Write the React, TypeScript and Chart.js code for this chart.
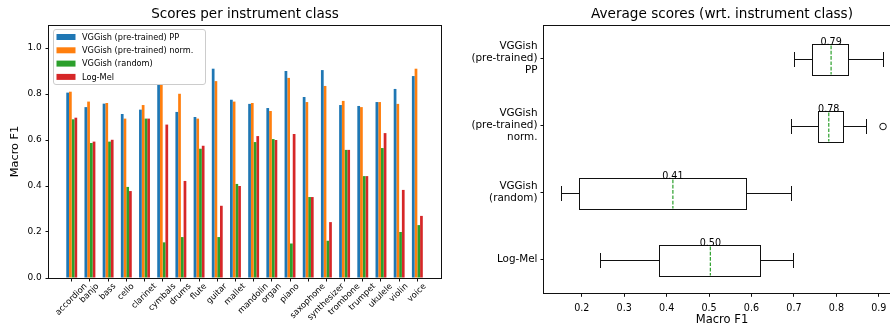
import React, { useEffect, useRef } from 'react';
import { Chart, registerables } from 'chart.js';

Chart.register(...registerables);

// ---------------- data ----------------
const instruments = [
  'accordion', 'banjo', 'bass', 'cello', 'clarinet', 'cymbals', 'drums', 'flute', 'guitar', 'mallet',
  'mandolin', 'organ', 'piano', 'saxophone', 'synthesizer', 'trombone', 'trumpet', 'ukulele', 'violin', 'voice',
];
const vggishPP = [0.806, 0.743, 0.758, 0.713, 0.732, 0.841, 0.722, 0.700, 0.910, 0.775, 0.757, 0.739, 0.900, 0.787, 0.904, 0.752, 0.748, 0.765, 0.822, 0.878];
const vggishNorm = [0.810, 0.767, 0.761, 0.693, 0.752, 0.841, 0.801, 0.693, 0.856, 0.767, 0.761, 0.726, 0.870, 0.765, 0.835, 0.770, 0.743, 0.765, 0.757, 0.910];
const vggishRandom = [0.690, 0.587, 0.593, 0.396, 0.693, 0.155, 0.178, 0.562, 0.178, 0.409, 0.591, 0.604, 0.150, 0.352, 0.162, 0.557, 0.443, 0.565, 0.200, 0.230];
const logMel = [0.697, 0.593, 0.601, 0.378, 0.693, 0.667, 0.422, 0.575, 0.314, 0.400, 0.617, 0.600, 0.626, 0.352, 0.243, 0.557, 0.443, 0.630, 0.383, 0.270];

const seriesNames = ['VGGish (pre-trained) PP', 'VGGish (pre-trained) norm.', 'VGGish (random)', 'Log-Mel'];
const seriesColors = ['#1f77b4', '#ff7f0e', '#2ca02c', '#d62728'];
const boxLabels = [['VGGish', '(pre-trained)', 'PP'], ['VGGish', '(pre-trained)', 'norm.'], ['VGGish', '(random)'], 'Log-Mel'];
const leftYTicks = [0.0, 0.2, 0.4, 0.6, 0.8, 1.0];
const rightXTicks = [0.2, 0.3, 0.4, 0.5, 0.6, 0.7, 0.8, 0.9];

const leftTitle = 'Scores per instrument class';
const rightTitle = 'Average scores (wrt. instrument class)';
const axisTitle = 'Macro F1';

const FONT = '"DejaVu Sans", sans-serif';
Chart.defaults.font.family = FONT;
Chart.defaults.color = '#000';

// ---------------- box statistics ----------------
function quantile(sorted: number[], p: number) {
  const pos = (sorted.length - 1) * p;
  const lo = Math.floor(pos);
  const hi = Math.ceil(pos);
  return sorted[lo] + (sorted[hi] - sorted[lo]) * (pos - lo);
}
function boxStats(vals: number[]) {
  const s = [...vals].sort((a, b) => a - b);
  const q1 = quantile(s, 0.25);
  const q3 = quantile(s, 0.75);
  const iqr = q3 - q1;
  const lo = q1 - 1.5 * iqr;
  const hi = q3 + 1.5 * iqr;
  const inside = s.filter((v) => v >= lo && v <= hi);
  const mean = s.reduce((a, b) => a + b, 0) / s.length;
  return { q1, q3, wlo: inside[0], whi: inside[inside.length - 1], mean, outliers: s.filter((v) => v < lo || v > hi) };
}

const allSeries = [vggishPP, vggishNorm, vggishRandom, logMel];
const stats = allSeries.map(boxStats);

const snap = (v: number) => Math.round(v) + 0.5;

// ---------------- plugins ----------------
const spinesPlugin = {
  id: 'spines',
  afterDatasetsDraw(chart: any) {
    const { ctx, chartArea: a } = chart;
    ctx.save();
    ctx.strokeStyle = '#111';
    ctx.lineWidth = 1;
    const l = Math.round(a.left) - 0.5;
    const t = Math.round(a.top) + 0.5;
    const b = Math.round(a.bottom) + 0.5;
    const r = Math.round(a.right) + 0.5;
    ctx.strokeRect(l, t, r - l, b - t);
    ctx.restore();
  },
};

const legendPlugin = {
  id: 'boxLegend',
  afterDraw(chart: any) {
    const { ctx, chartArea: a } = chart;
    ctx.save();
    const x0 = a.left + 4.5;
    const y0 = a.top + 4.5;
    const w = 152;
    const h = 55;
    ctx.beginPath();
    ctx.roundRect(x0, y0, w, h, 2.5);
    ctx.fillStyle = 'rgba(255,255,255,0.8)';
    ctx.fill();
    ctx.strokeStyle = '#cccccc';
    ctx.lineWidth = 1;
    ctx.stroke();
    ctx.font = `8.2px ${FONT}`;
    ctx.textAlign = 'left';
    ctx.textBaseline = 'middle';
    chart.data.datasets.forEach((ds: any, k: number) => {
      const yc = y0 + 7.5 + 13.3 * k;
      ctx.fillStyle = ds.backgroundColor;
      ctx.fillRect(x0 + 3, yc - 3, 19, 6);
      ctx.fillStyle = '#000';
      ctx.fillText(ds.label, x0 + 28.5, yc + 0.5);
    });
    ctx.restore();
  },
};

const rotatedLabelsPlugin = {
  id: 'rotLabels',
  afterDraw(chart: any) {
    const { ctx, chartArea: a } = chart;
    const xs = chart.scales.x;
    ctx.save();
    const fs = 8.4;
    ctx.font = `${fs}px ${FONT}`;
    ctx.fillStyle = '#000';
    ctx.textAlign = 'right';
    ctx.textBaseline = 'top';
    const hTxt = fs * 1.15;
    const T = a.bottom + 4;
    instruments.forEach((lab, i) => {
      const px = xs.getPixelForValue(i);
      const w = ctx.measureText(lab).width;
      const cx = px + 0.35355 * (w - hTxt);
      ctx.save();
      ctx.translate(cx, T);
      ctx.rotate(-Math.PI / 4);
      ctx.fillText(lab, 0, 0);
      ctx.restore();
    });
    ctx.restore();
  },
};

const boxExtrasPlugin = {
  id: 'boxExtras',
  afterDatasetsDraw(chart: any) {
    const { ctx } = chart;
    const xs = chart.scales.x;
    const ys = chart.scales.y;
    const meta = chart.getDatasetMeta(0);
    ctx.save();
    stats.forEach((s, i) => {
      const el: any = meta.data[i];
      const yc = snap(ys.getPixelForValue(i));
      const h = el.height;
      const top = snap(yc - h / 2);
      const bot = snap(yc + h / 2);
      const xq1 = snap(xs.getPixelForValue(s.q1));
      const xq3 = snap(xs.getPixelForValue(s.q3));
      const xlo = snap(xs.getPixelForValue(s.wlo));
      const xhi = snap(xs.getPixelForValue(s.whi));
      ctx.strokeStyle = '#111';
      ctx.lineWidth = 1;
      ctx.setLineDash([]);
      // box outline
      ctx.strokeRect(xq1, top, xq3 - xq1, bot - top);
      ctx.beginPath();
      // whiskers
      ctx.moveTo(xlo, yc);
      ctx.lineTo(xq1, yc);
      ctx.moveTo(xq3, yc);
      ctx.lineTo(xhi, yc);
      // caps
      const capTop = Math.round(yc - h / 4);
      const capBot = Math.round(yc + h / 4);
      ctx.moveTo(xlo, capTop);
      ctx.lineTo(xlo, capBot);
      ctx.moveTo(xhi, capTop);
      ctx.lineTo(xhi, capBot);
      ctx.stroke();
      // outliers
      s.outliers.forEach((o) => {
        ctx.beginPath();
        ctx.arc(xs.getPixelForValue(o), yc, 3.3, 0, Math.PI * 2);
        ctx.stroke();
      });
      // mean line + label
      const xm = xs.getPixelForValue(s.mean);
      ctx.strokeStyle = '#2ca02c';
      ctx.lineWidth = 1.2;
      ctx.setLineDash([3.7, 1.6]);
      ctx.beginPath();
      ctx.moveTo(xm, top + 1);
      ctx.lineTo(xm, bot - 1);
      ctx.stroke();
      ctx.setLineDash([]);
      ctx.fillStyle = '#000';
      ctx.font = `9.6px ${FONT}`;
      ctx.textAlign = 'center';
      ctx.textBaseline = 'alphabetic';
      ctx.fillText(s.mean.toFixed(2), xm, top + 0.5);
    });
    ctx.restore();
  },
};

const tickGrid = { drawOnChartArea: false, drawTicks: true, tickLength: 3.5, color: '#111', lineWidth: 1, offset: false };

function leftConfig(): any {
  return {
    type: 'bar',
    data: {
      datasets: allSeries.map((vals, k) => ({
        label: seriesNames[k],
        data: vals.map((v, i) => ({ x: i, y: v })),
        backgroundColor: seriesColors[k],
        borderWidth: 0,
        categoryPercentage: 0.6,
        barPercentage: 1.0,
      })),
    },
    options: {
      responsive: false,
      animation: false,
      events: [],
      layout: { padding: { left: 0, right: 4, top: 0, bottom: 0 } },
      plugins: {
        legend: { display: false },
        tooltip: { enabled: false },
        title: {
          display: true,
          text: leftTitle,
          fullSize: false,
          color: '#000',
          font: { family: FONT, size: 13.5, weight: 'normal', lineHeight: 1.2 },
          padding: { top: 6.7, bottom: 2.1 },
        },
      },
      scales: {
        x: {
          type: 'linear',
          min: -1.25,
          max: 20.3,
          offset: false,
          grid: tickGrid,
          border: { display: false },
          ticks: { display: false },
          afterBuildTicks: (s: any) => {
            s.ticks = instruments.map((_, i) => ({ value: i }));
          },
          afterFit: (s: any) => {
            s.height = 49;
          },
        },
        y: {
          type: 'linear',
          min: 0,
          max: 1.1,
          grid: tickGrid,
          border: { display: false },
          ticks: {
            color: '#000',
            font: { family: FONT, size: 9 },
            padding: 3.8,
            callback: (v: any) => Number(v).toFixed(1),
          },
          afterBuildTicks: (s: any) => {
            s.ticks = leftYTicks.map((v) => ({ value: v }));
          },
          title: {
            display: true,
            text: axisTitle,
            color: '#000',
            font: { family: FONT, size: 11.3, lineHeight: 1.2 },
            padding: { top: 8.2, bottom: 0 },
          },
          afterFit: (s: any) => {
            s.width = 49;
          },
        },
      },
    },
    plugins: [spinesPlugin, rotatedLabelsPlugin, legendPlugin],
  };
}

function rightConfig(): any {
  return {
    type: 'bar',
    data: {
      labels: boxLabels,
      datasets: [
        {
          data: stats.map((s) => [s.q1, s.q3]),
          backgroundColor: '#ffffff',
          borderWidth: 0,
          barPercentage: 0.45,
          categoryPercentage: 1.0,
        },
      ],
    },
    options: {
      indexAxis: 'y',
      responsive: false,
      animation: false,
      events: [],
      layout: { padding: 0 },
      plugins: {
        legend: { display: false },
        tooltip: { enabled: false },
        title: {
          display: true,
          text: rightTitle,
          fullSize: false,
          color: '#000',
          font: { family: FONT, size: 13.6, weight: 'normal', lineHeight: 1.2 },
          padding: { top: 6.7, bottom: 2.0 },
        },
      },
      scales: {
        x: {
          type: 'linear',
          min: 0.111,
          max: 0.95,
          grid: tickGrid,
          border: { display: false },
          ticks: {
            color: '#000',
            font: { family: FONT, size: 9.6 },
            padding: 5.5,
            callback: (v: any) => Number(v).toFixed(1),
          },
          afterBuildTicks: (s: any) => {
            s.ticks = rightXTicks.map((v) => ({ value: v }));
          },
          title: {
            display: true,
            text: axisTitle,
            color: '#000',
            font: { family: FONT, size: 11.5, lineHeight: 1.2 },
            padding: { top: 0, bottom: 0.3 },
          },
          afterFit: (s: any) => {
            s.height = 33.7;
          },
        },
        y: {
          type: 'category',
          offset: true,
          grid: tickGrid,
          border: { display: false },
          ticks: {
            color: '#000',
            font: { family: FONT, size: 10.4, lineHeight: 1.17 },
            padding: 3,
          },
          afterFit: (s: any) => {
            s.width = 99;
          },
        },
      },
    },
    plugins: [spinesPlugin, boxExtrasPlugin],
  };
}

export default function App() {
  const leftRef = useRef<HTMLCanvasElement>(null);
  const rightRef = useRef<HTMLCanvasElement>(null);
  useEffect(() => {
    const c1 = new Chart(leftRef.current as HTMLCanvasElement, leftConfig());
    const c2 = new Chart(rightRef.current as HTMLCanvasElement, rightConfig());
    return () => {
      c1.destroy();
      c2.destroy();
    };
  }, []);
  return (
    <div style={{ position: 'absolute', left: 0, top: 0, width: 890, height: 327, overflow: 'hidden', background: '#fff' }}>
      <canvas ref={leftRef} width={445} height={327} style={{ position: 'absolute', left: 0, top: 0 }} />
      <canvas ref={rightRef} width={455} height={327} style={{ position: 'absolute', left: 445, top: 0 }} />
    </div>
  );
}
